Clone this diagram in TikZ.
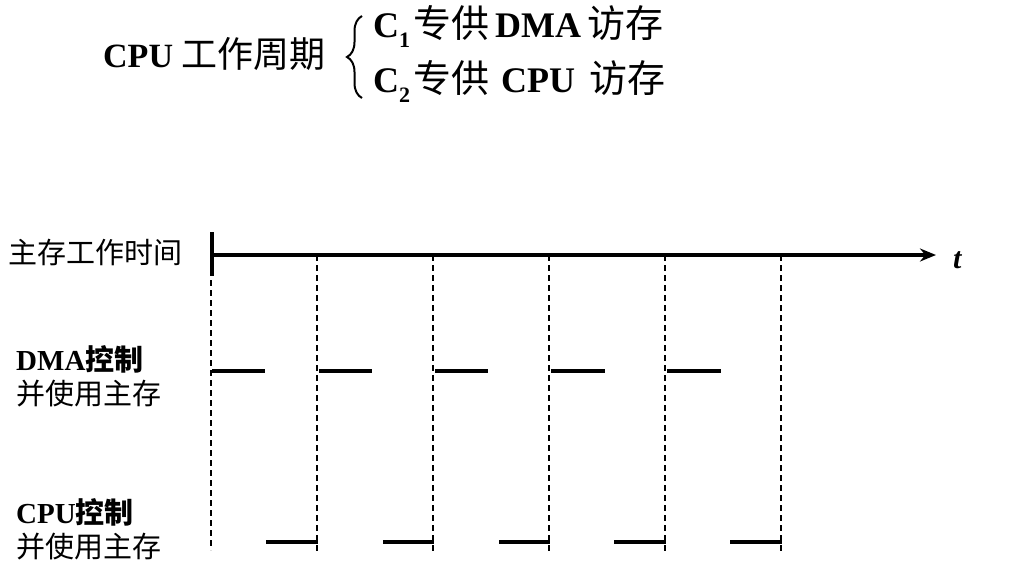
\documentclass[tikz,border=0pt]{standalone}
\usepackage{fontspec}
\setmainfont{Liberation Serif}
\newfontfamily\cjk{Noto Sans CJK SC}
\usetikzlibrary{arrows.meta,decorations.pathreplacing}
\tikzset{
  lbl/.style={inner sep=0pt, anchor=base west, font=\fontsize{29}{34}\selectfont},
  head/.style={inner sep=0pt, anchor=base west, font=\fontsize{36}{40}\selectfont},
  busy/.style={line width=4pt},
  guide/.style={line width=1.2pt, dash pattern=on 6pt off 4pt},
}
\newcommand{\zh}[1]{{\cjk #1}}
\newcommand{\zhb}[1]{{\cjk\bfseries #1}}
\newcommand{\zhbig}[1]{{\cjk\fontsize{38}{40}\selectfont #1}}

\begin{document}
\begin{tikzpicture}[x=1pt,y=-1pt]
  \useasboundingbox (0,0) rectangle (1025,582);
  % Cycle C1 / C2
  \node[head, font=\fontsize{34}{40}\selectfont] (cyc) at (103,67) {\textbf{CPU} \zh{\fontsize{36}{40}\selectfont 工作周期}};
  \draw[line width=2pt, decorate, decoration={brace, amplitude=15pt}] (362,98) -- (362,16);
  \node[head] (cone) at (373,37) {\textbf{C}\raisebox{-10pt}{\fontsize{22}{22}\selectfont\textbf{1}}\hspace{3pt}\zhbig{专供}\hspace{6pt}\textbf{DMA}\hspace{6pt}\zhbig{访存}};
  \node[head] (ctwo) at (373,92) {\textbf{C}\raisebox{-10pt}{\fontsize{22}{22}\selectfont\textbf{2}}\hspace{3pt}\zhbig{专供}\hspace{12pt}\textbf{CPU}\hspace{14pt}\zhbig{访存}};
  % Row labels
  \node[lbl] (mem) at (8,263) {\zh{主存工作时间}};
  \node[lbl] (dma) at (16,370) {\textbf{DMA}\zhb{控制}};
  \node[lbl] (dmause) at (16,404) {\zh{并使用主存}};
  \node[lbl] (cpu) at (16,523) {\textbf{CPU}\zhb{控制}};
  \node[lbl] (cpuuse) at (16,557) {\zh{并使用主存}};
  % Time axis
  \coordinate (o) at (212,255);
  \coordinate (tend) at (936,255);
  \draw[line width=3.5pt, -{Stealth[length=16pt,width=13pt]}] (o) -- (tend);
  \draw[line width=4.5pt] (212,232) -- (212,276);
  \node[lbl, font=\fontsize{30}{34}\selectfont] (t) at (953,268) {\textbf{\textit{t}}};
  % Cycle boundaries
  \draw[guide] (211,280) -- (211,550);
  \draw[guide] (317,255) -- (317,552);
  \draw[guide] (433,255) -- (433,552);
  \draw[guide] (549,255) -- (549,552);
  \draw[guide] (665,255) -- (665,552);
  \draw[guide] (781,255) -- (781,552);
  % DMA uses memory
  \draw[busy] (212,371) -- (265,371);
  \draw[busy] (319,371) -- (372,371);
  \draw[busy] (435,371) -- (488,371);
  \draw[busy] (551,371) -- (605,371);
  \draw[busy] (667,371) -- (721,371);
  % CPU uses memory
  \draw[busy] (266,542) -- (318,542);
  \draw[busy] (383,542) -- (434,542);
  \draw[busy] (499,542) -- (550,542);
  \draw[busy] (614,542) -- (666,542);
  \draw[busy] (730,542) -- (782,542);
\end{tikzpicture}
\end{document}
